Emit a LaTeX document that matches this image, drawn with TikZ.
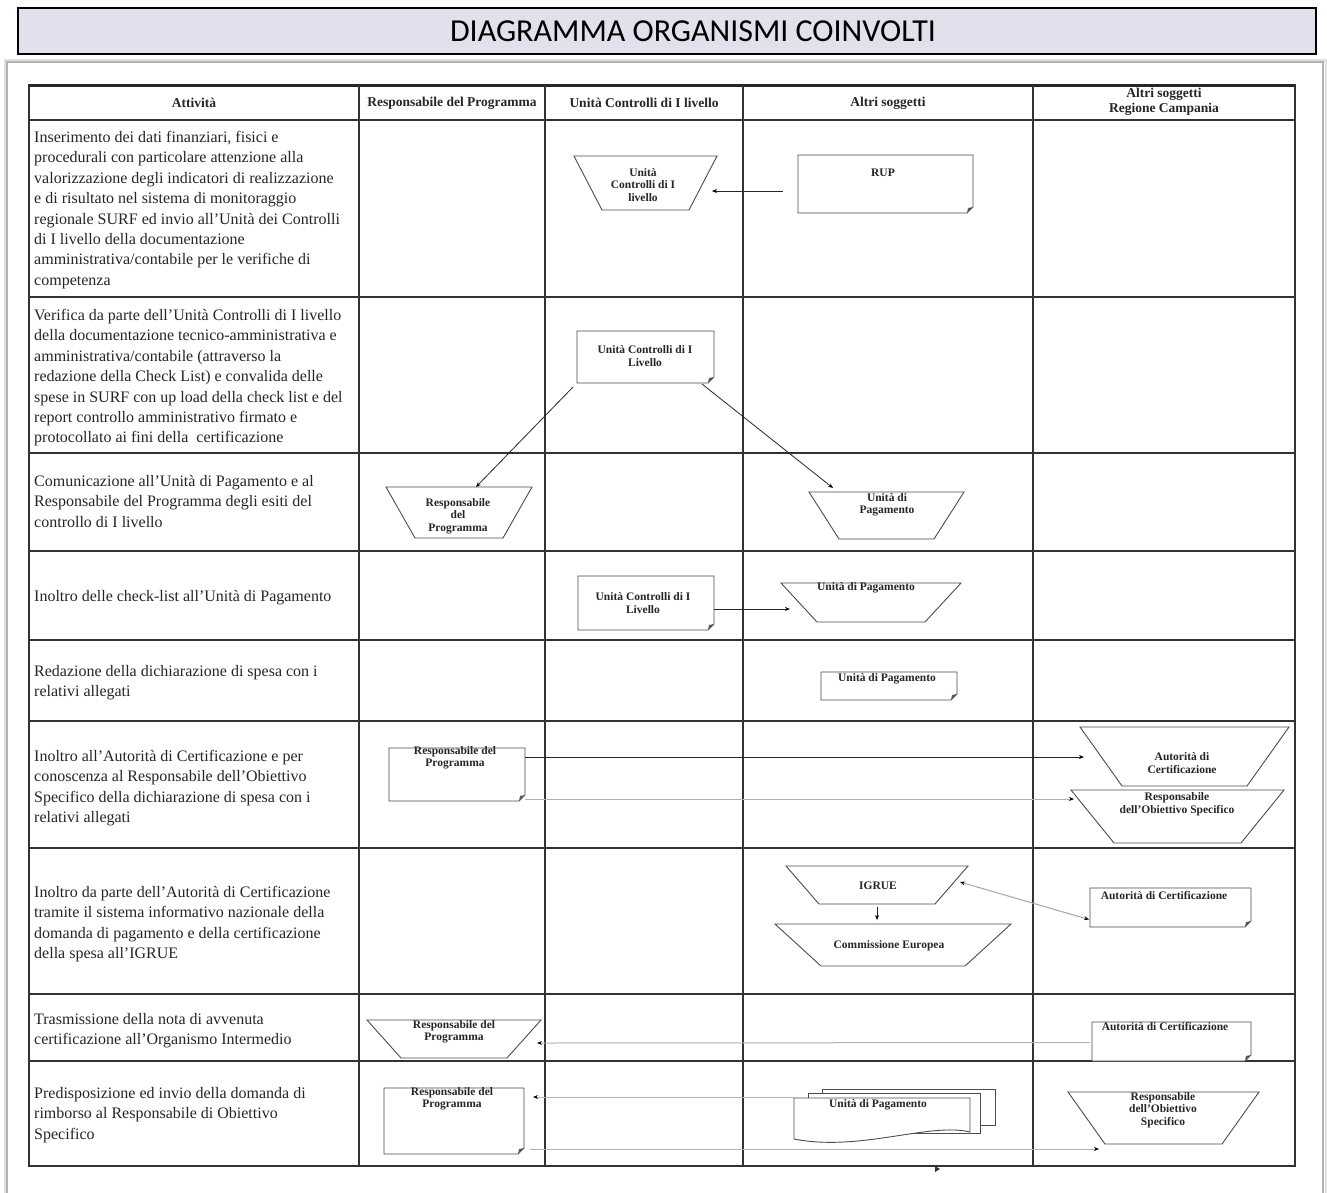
\documentclass[tikz,border=0pt]{standalone}
\usepackage{fontspec}
\setmainfont{Liberation Serif}
\newfontfamily\titlefont{Carlito}
\usetikzlibrary{fit,calc,arrows.meta}
\definecolor{titlebg}{RGB}{228,223,236}
\tikzset{
  body/.style={font=\fontsize{16}{20.4}\selectfont, align=left, anchor=north west, inner sep=0pt, text=black!85},
  hdr/.style={font=\bfseries\fontsize{13.5}{15}\selectfont, align=center, inner sep=0pt, text=black!85},
  lbl/.style={font=\bfseries\fontsize{11.5}{12.5}\selectfont, align=center, inner sep=0pt, text=black!85},
  shp/.style={draw=black!70, line width=0.9pt, fill=white},
  grid/.style={draw=black!80, line width=1.3pt},
  arr/.style={-{Stealth[length=5pt,width=4pt,color=black]}, line width=0.8pt, draw=black!85},
  garr/.style={-{Stealth[length=5pt,width=4pt,color=black]}, line width=1pt, draw=black!30},
  dgarr/.style={{Stealth[length=5pt,width=4pt,color=black]}-{Stealth[length=5pt,width=4pt,color=black]}, line width=1pt, draw=black!35}
}
\newcommand{\mytrap}[4]{%
  \node[fit={#2 #3}, inner sep=0pt, outer sep=0pt] (#1) {};
  \draw[shp] (#1.north west) -- (#1.north east) -- ($(#1.south east)+(-#4,0)$) -- ($(#1.south west)+(#4,0)$) -- cycle;}
\newcommand{\mydoc}[3]{%
  \node[fit={#2 #3}, inner sep=0pt, outer sep=0pt] (#1) {};
  \draw[shp] (#1.north west) -- (#1.north east) -- ($(#1.south east)+(0,-6)$) -- ($(#1.south east)+(-6,0)$) -- (#1.south west) -- cycle;
  \fill[black!65] ($(#1.south east)+(0,-6)$) -- ($(#1.south east)+(-6,0)$) -- ($(#1.south east)+(-5,-5)$) -- cycle;}
\begin{document}
\begin{tikzpicture}[x=1pt,y=-1pt]
\useasboundingbox (0,0) rectangle (1327,1192);
\fill[white] (0,0) rectangle (1327,1192);
% title
\node[draw=black, line width=2.5pt, fill=titlebg, minimum width=1298pt, minimum height=46pt, inner sep=0pt] (title) at (667,31) {};
\node[font=\titlefont\fontsize{32}{34}\selectfont, inner sep=0pt] (titletext) at ($(title.center)+(26,0)$) {DIAGRAMMA ORGANISMI COINVOLTI};
% page frame
\draw[black!12, line width=3pt] (5,1195) -- (5,60) -- (1326,60) -- (1326,1195);
\draw[black!30, line width=1.2pt] (7,1195) -- (7,62) -- (1323,62) -- (1323,1195);
% table
\draw[grid] (29,85) rectangle (1295,1166);
\draw[draw=black!85, line width=3pt] (29,85) -- (1295,85);
\foreach \yy in {120,297,453,551,640,721,848,994,1061} \draw[grid] (29,\yy) -- (1295,\yy);
\foreach \xx in {359,545,743,1033} \draw[grid] (\xx,85) -- (\xx,1166);
% headers
\node[hdr] (h1) at (194,103) {Attività};
\node[hdr] (h2) at (452,103) {Responsabile del Programma};
\node[hdr] (h3) at (644,103) {Unità Controlli di I livello};
\node[hdr] (h4) at (888,103) {Altri soggetti};
\node[hdr] (h5) at (1164,102) {Altri soggetti\\Regione Campania};
% activity texts
\node[body] (a1) at (34,131) {Inserimento dei dati finanziari, fisici e\\procedurali con particolare attenzione alla\\valorizzazione degli indicatori di realizzazione\\e di risultato nel sistema di monitoraggio\\regionale SURF ed invio all'Unità dei Controlli\\di I livello della documentazione\\amministrativa/contabile per le verifiche di\\competenza};
\node[body] (a2) at (34,309) {Verifica da parte dell'Unità Controlli di I livello\\della documentazione tecnico-amministrativa e\\amministrativa/contabile (attraverso la\\redazione della Check List) e convalida delle\\spese in SURF con up load della check list e del\\report controllo amministrativo firmato e\\protocollato ai fini della\ \ certificazione};
\node[body] (a3) at (34,475) {Comunicazione all'Unità di Pagamento e al\\Responsabile del Programma degli esiti del\\controllo di I livello};
\node[body] (a4) at (34,590) {Inoltro delle check-list all'Unità di Pagamento};
\node[body] (a5) at (34,665) {Redazione della dichiarazione di spesa con i\\relativi allegati};
\node[body] (a6) at (34,750) {Inoltro all'Autorità di Certificazione e per\\conoscenza al Responsabile dell'Obiettivo\\Specifico della dichiarazione di spesa con i\\relativi allegati};
\node[body] (a7) at (34,886) {Inoltro da parte dell'Autorità di Certificazione\\tramite il sistema informativo nazionale della\\domanda di pagamento e della certificazione\\della spesa all'IGRUE};
\node[body] (a8) at (34,1013) {Trasmissione della nota di avvenuta\\certificazione all'Organismo Intermedio};
\node[body] (a9) at (34,1087) {Predisposizione ed invio della domanda di\\rimborso al Responsabile di Obiettivo\\Specifico};
% row 1
\mytrap{ucla}{(574,156)}{(717,210)}{28}
\node[lbl] (uclat) at (643,185) {Unità\\Controlli di I\\livello};
\mydoc{rup}{(798,155)}{(973,213)}
\node[lbl] (rupt) at (883,173) {RUP};
% row 2
\mydoc{uclb}{(577,331)}{(714,383)}
\node[lbl] (uclbt) at (645,356) {Unità Controlli di I\\Livello};
% row 3
\mytrap{rpc}{(386,487)}{(532,538)}{29}
\node[lbl] (rpct) at (458,516) {Responsabile\\del\\Programma};
\mytrap{upc}{(809,492)}{(964,539)}{30}
\node[lbl] (upct) at (887,505) {Unità di\\Pagamento};
% row 4
\mydoc{ucld}{(578,576)}{(714,630)}
\node[lbl] (ucldt) at (643,603) {Unità Controlli di I\\Livello};
\mytrap{upd}{(781,583)}{(961,622)}{36}
\node[lbl] (updt) at (866,588) {Unità di Pagamento};
% row 5
\mydoc{upe}{(821,672)}{(957,700)}
\node[lbl] (upet) at (887,679) {Unità di Pagamento};
% row 6
\mydoc{rpf}{(389,748)}{(525,801)}
\node[lbl] (rpft) at (455,758) {Responsabile del\\Programma};
\mytrap{acf}{(1080,727)}{(1289,786)}{42}
\node[lbl] (acft) at (1182,763) {Autorità di\\Certificazione};
\mytrap{rosf}{(1071,790)}{(1284,843)}{43}
\node[lbl] (rosft) at (1177,804) {Responsabile\\dell'Obiettivo Specifico};
% row 7
\mytrap{igrue}{(786,866)}{(968,904)}{33}
\node[lbl] (igruet) at (878,886) {IGRUE};
\mytrap{ce}{(775,924)}{(1011,966)}{46}
\node[lbl] (cet) at (889,946) {Commissione Europea};
\mydoc{acg}{(1090,888)}{(1251,927)}
\node[lbl] (acgt) at (1164,896) {Autorità di Certificazione};
% row 8
\mytrap{rph}{(367,1020)}{(541,1058)}{34}
\node[lbl] (rpht) at (454,1032) {Responsabile del\\Programma};
\mydoc{ach}{(1092,1022)}{(1251,1061)}
\node[lbl] (acht) at (1165,1027) {Autorità di Certificazione};
% row 9
\mydoc{rpi}{(384,1088)}{(524,1154)}
\node[lbl] (rpit) at (452,1099) {Responsabile del\\Programma};
\draw[shp] (822,1089) rectangle (995,1125);
\draw[shp] (808,1093) rectangle (980,1133);
\node[fit={(794,1098) (970,1141)}, inner sep=0pt, outer sep=0pt] (upi) {};
\draw[shp] (upi.north west) -- (upi.north east) -- ($(upi.south east)+(0,-9)$) .. controls (930,1122) and (860,1152) .. ($(upi.south west)+(0,-2)$) -- cycle;
\node[lbl] (upit) at (878,1105) {Unità di Pagamento};
\mytrap{rosi}{(1068,1092)}{(1259,1144)}{37}
\node[lbl] (rosit) at (1163,1110) {Responsabile\\dell'Obiettivo\\Specifico};
% connectors
\draw[arr] ($(rup.west)+(-15,7)$) -- ($(ucla.east)+(-5,8)$);
\draw[arr] ($(uclb.south west)+(-4,4)$) -- ($(rpc.north)+(17,0)$);
\draw[arr] ($(uclb.south east)+(-12,1)$) -- ($(upc.north west)+(24,-4)$);
\draw[arr] ($(ucld.east)+(0,6)$) -- ($(upd.west)+(9,6.5)$);
\draw[arr] ($(rpf.north east)+(0,9)$) -- ($(acf.north west)+(4,30)$);
\draw[garr] ($(rpf.south east)+(0,-2)$) -- ($(rosf.north west)+(3,9)$);
\draw[dgarr] ($(igrue.north east)+(-8,16)$) -- ($(acg.west)+(-1,12)$);
\draw[arr] ($(igrue.south)+(0,3)$) -- ($(igrue.south |- ce.north)+(0,-4)$);
\draw[garr] ($(ach.west)+(-2,1)$) -- ($(rph.north east)+(-4,23)$);
\draw[garr] ($(upi.north west)+(2,-1)$) -- ($(rpi.north east)+(9,9)$);
\draw[garr] ($(rpi.south east)+(6,-5)$) -- ($(rosi.south west)+(31,5)$);
\fill[black!80] (935,1166) -- (940,1169) -- (935,1172) -- cycle;
\end{tikzpicture}
\end{document}
